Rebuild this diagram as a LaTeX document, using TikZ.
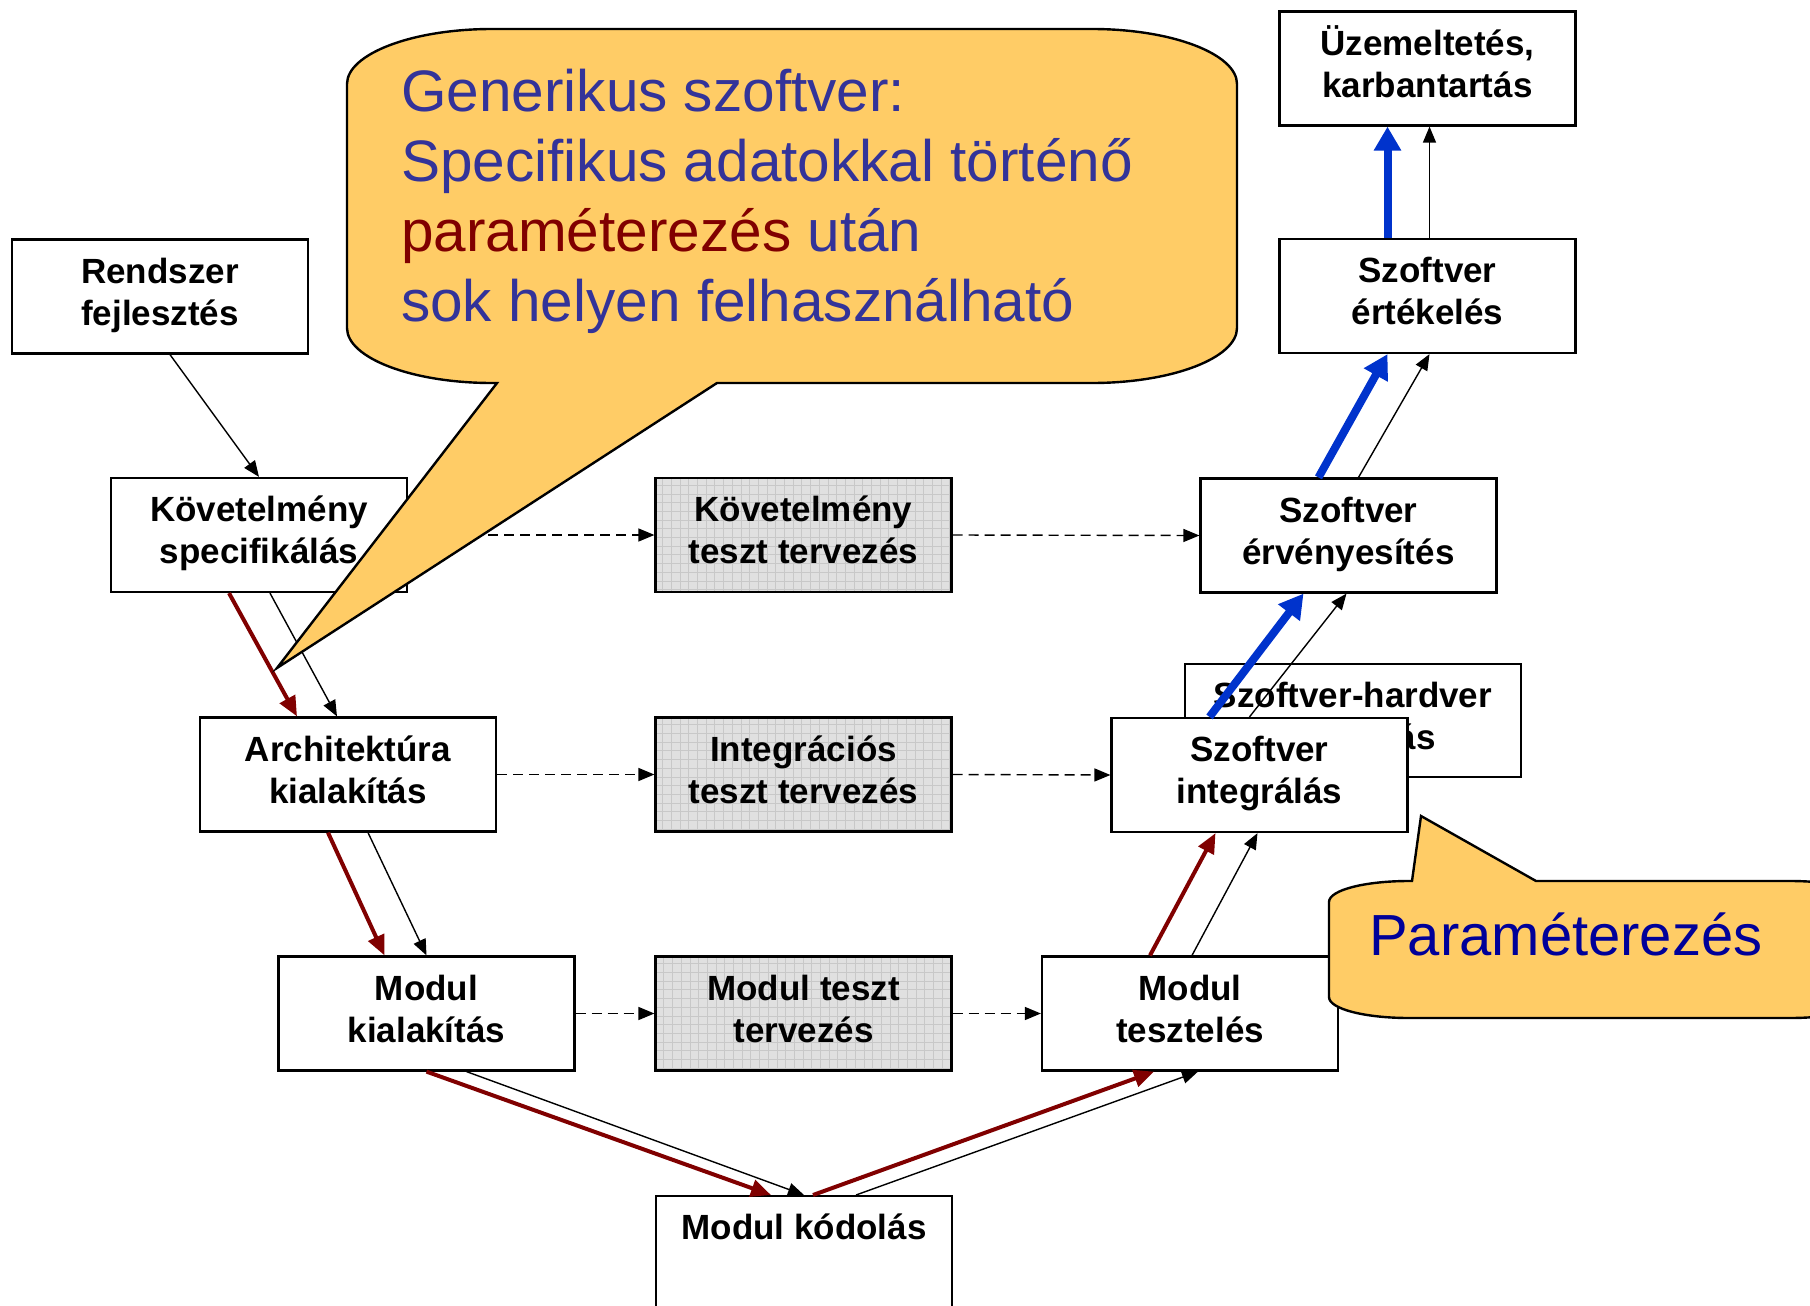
\documentclass[tikz,border=0pt]{standalone}
\usepackage{fontspec}
\setmainfont{Liberation Sans}
\usetikzlibrary{arrows.meta,calc}

\definecolor{calloutfill}{RGB}{255,204,102}
\definecolor{noteblue}{RGB}{51,51,153}
\definecolor{notered}{RGB}{128,0,0}
\definecolor{paramblue}{RGB}{0,0,153}
\definecolor{flowred}{RGB}{128,0,0}
\definecolor{flowblue}{RGB}{0,51,204}
\definecolor{shadefill}{RGB}{224,224,224}
\definecolor{shadegrid}{RGB}{200,200,200}

% invisible struts (top of first line, bottom of last line) so every
% two-line label sits at the same height whatever its letters
\newcommand\topstrut{\rule{0pt}{36pt}}
\newcommand\botstrut{\rule[-21pt]{0pt}{21pt}}
\newcommand\stagetext[2]{\topstrut#1\\#2\botstrut}

\begin{document}
\begin{tikzpicture}[x=1pt,y=-1pt,
  stagebox/.style={draw=black, line width=2.2pt, fill=white,
    minimum width=296pt, minimum height=114pt, inner sep=0pt,
    align=center, font=\fontsize{35}{42}\selectfont\bfseries},
  testbox/.style={stagebox, fill=shadefill,
    path picture={\draw[shadegrid, line width=0.7pt]
      (path picture bounding box.south west) grid[step=8.7pt]
      (path picture bounding box.north east);}},
  thinarrow/.style={draw=black, line width=1.4pt,
    -{Triangle[length=16pt,width=13pt]}},
  dasharrow/.style={thinarrow, dash pattern=on 10pt off 6pt},
  redarrow/.style={draw=flowred, line width=4pt,
    -{Triangle[length=20pt,width=17pt]}},
  bluearrow/.style={draw=flowblue, line width=8pt,
    -{Triangle[length=24pt,width=26pt]}},
  callout/.style={draw=black, line width=2.4pt, fill=calloutfill, line join=miter}
]
\useasboundingbox (0,0) rectangle (1810,1306);
\clip (0,0) rectangle (1810,1306);

% stage partly hidden behind the integration box
\node[stagebox, minimum width=336pt, minimum height=113pt] (hwsw) at (1353,720.5) {\stagetext{Szoftver-hardver}{integrálás}};

% left branch of the V
\node[stagebox] (rend) at (160,296.5) {\stagetext{Rendszer}{fejlesztés}};
\node[stagebox] (kovspec) at (259,535) {\stagetext{Követelmény}{specifikálás}};
\node[stagebox] (arch) at (348,774.5) {\stagetext{Architektúra}{kialakítás}};
\node[stagebox] (modkial) at (426.5,1013.5) {\stagetext{Modul}{kialakítás}};

% test design column
\node[testbox] (kovteszt) at (803.5,535) {\stagetext{Követelmény}{teszt tervezés}};
\node[testbox] (integteszt) at (803.5,774.5) {\stagetext{Integrációs}{teszt tervezés}};
\node[testbox] (modteszt) at (803.5,1013.5) {\stagetext{Modul teszt}{tervezés}};

% bottom of the V
\node[stagebox, minimum height=140pt, anchor=north] (modkod) at (804,1195) {};
\node[font=\fontsize{35}{42}\selectfont\bfseries, anchor=base, inner sep=0pt] (modkodtxt) at (804,1239) {Modul kódolás};

% right branch of the V
\node[stagebox] (modtest) at (1190,1013.5) {\stagetext{Modul}{tesztelés}};
\node[stagebox] (szint) at (1259.5,775) {\stagetext{Szoftver}{integrálás}};
\node[stagebox] (ervenyes) at (1348.5,535.5) {\stagetext{Szoftver}{érvényesítés}};
\node[stagebox] (ertekel) at (1427.5,296) {\stagetext{Szoftver}{értékelés}};
\node[stagebox] (uzem) at (1427.5,68.5) {\stagetext{Üzemeltetés,}{karbantartás}};

% dashed links to and from the test design column
\draw[dasharrow] (kovspec.east) -- (kovteszt.west);
\draw[dasharrow] (kovteszt.east) -- (ervenyes.west);
\draw[dasharrow] (arch.east) -- (integteszt.west);
\draw[dasharrow] (integteszt.east) -- (szint.west);
\draw[dasharrow] (modkial.east) -- (modteszt.west);
\draw[dasharrow] (modteszt.east) -- (modtest.west);

% main flow
\draw[thinarrow] ($(rend.south)+(10,0)$) -- (kovspec.north);
\draw[redarrow] ($(kovspec.south)+(-30,0)$) -- ($(arch.north)+(-51,0)$);
\draw[thinarrow] ($(kovspec.south)+(11,0)$) -- ($(arch.north)+(-11,0)$);
\draw[redarrow] ($(arch.south)+(-20,0)$) -- ($(modkial.north)+(-42,0)$);
\draw[thinarrow] ($(arch.south)+(20,0)$) -- (modkial.north);
\draw[redarrow] (modkial.south) -- ($(modkod.north)+(-33,0)$);
\draw[thinarrow] ($(modkial.south)+(40,0)$) -- (modkod.north);
\draw[redarrow] ($(modkod.north)+(9,0)$) -- ($(modtest.south)+(-36,0)$);
\draw[thinarrow] ($(modkod.north)+(52,0)$) -- ($(modtest.south)+(8,0)$);
\draw[redarrow] ($(modtest.north)+(-40,0)$) -- ($(szint.south)+(-44,0)$);
\draw[thinarrow] ($(modtest.north)+(2,0)$) -- ($(szint.south)+(-2,0)$);
\draw[bluearrow] ($(szint.north)+(-50,0)$) -- ($(ervenyes.south)+(-45,0)$);
\draw[thinarrow] ($(szint.north)+(-10,0)$) -- ($(ervenyes.south)+(-2,0)$);
\draw[bluearrow] ($(ervenyes.north)+(-30,0)$) -- ($(ertekel.south)+(-40,0)$);
\draw[thinarrow] ($(ervenyes.north)+(10,0)$) -- ($(ertekel.south)+(2,0)$);
\draw[bluearrow] ($(ertekel.north)+(-40,0)$) -- ($(uzem.south)+(-40,0)$);
\draw[thinarrow] ($(ertekel.north)+(2,0)$) -- ($(uzem.south)+(2,0)$);

% large speech bubble
\path[callout] (497,383) -- (277,668) -- (717,383) -- (1092,383)
  .. controls (1172,383) and (1237,358) .. (1237,328)
  -- (1237,84)
  .. controls (1237,54) and (1172,29) .. (1092,29)
  -- (492,29)
  .. controls (412,29) and (347,54) .. (347,84)
  -- (347,328)
  .. controls (347,358) and (412,383) .. (492,383) -- cycle;
\node[anchor=north west, inner sep=0pt, align=left, text=noteblue,
  font=\fontsize{58.5}{70}\selectfont] (note) at (401,69)
  {Generikus szoftver:\\Specifikus adatokkal történő\\\textcolor{notered}{paraméterezés} után\\sok helyen felhasználható};

% small speech bubble
\path[callout] (1412,881) -- (1421,816) -- (1536,881) -- (1790,881)
  .. controls (1834,881) and (1870,890) .. (1870,902)
  -- (1870,997)
  .. controls (1870,1009) and (1834,1018) .. (1790,1018)
  -- (1409,1018)
  .. controls (1365,1018) and (1329,1009) .. (1329,997)
  -- (1329,902)
  .. controls (1329,890) and (1365,881) .. (1409,881) -- cycle;
\node[anchor=base west, inner sep=0pt, text=paramblue,
  font=\fontsize{58}{70}\selectfont] (param) at (1369,955) {Paraméterezés};
\end{tikzpicture}
\end{document}
